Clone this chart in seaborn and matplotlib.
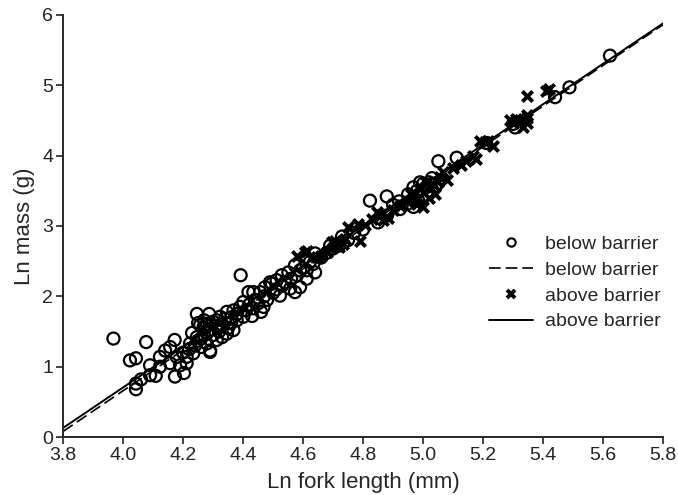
"""
Ln mass vs Ln fork length, fish below and above a barrier.
"""

import pandas as pd
import matplotlib.pyplot as plt
import seaborn as sns
from matplotlib.lines import Line2D

# --- Data ---
below_x = [
    3.968, 4.077, 4.023, 4.043, 4.090, 4.043, 4.043, 4.060, 4.090, 4.109,
    4.173, 4.203, 4.172, 4.157, 4.140, 4.123, 4.179, 4.123, 4.190, 4.157,
    4.212, 4.212, 4.234, 4.290, 4.223, 4.246, 4.268, 4.290, 4.279, 4.312,
    4.346, 4.368, 4.323, 4.246, 4.287, 4.290, 4.257, 4.273, 4.300, 4.220,
    4.240, 4.260, 4.270, 4.300, 4.320, 4.330, 4.350, 4.360, 4.340, 4.200,
    4.250, 4.280, 4.310, 4.260, 4.323, 4.346, 4.368, 4.401, 4.418, 4.434,
    4.457, 4.473, 4.496, 4.512, 4.529, 4.551, 4.573, 4.590, 4.612, 4.640,
    4.623, 4.523, 4.557, 4.573, 4.468, 4.434, 4.401, 4.379, 4.318, 4.279,
    4.312, 4.634, 4.640, 4.612, 4.590, 4.392, 4.380, 4.410, 4.420, 4.440,
    4.450, 4.470, 4.480, 4.500, 4.510, 4.530, 4.540, 4.560, 4.580, 4.600,
    4.390, 4.430, 4.460, 4.360, 4.350, 4.490, 4.660, 4.680, 4.700, 4.720,
    4.750, 4.770, 4.800, 4.823, 4.879, 4.850, 4.880, 4.923, 4.946, 4.968,
    4.984, 4.968, 4.980, 5.000, 5.010, 5.020, 4.990, 5.030, 5.051, 5.112,
    5.300, 5.307, 5.440, 5.488, 5.623, 4.950, 4.920, 4.900, 5.040, 4.730,
    4.690, 5.210, 4.230, 4.250, 4.330, 4.270,
]
below_y = [
    1.40, 1.35, 1.09, 1.12, 1.02, 0.76, 0.68, 0.82, 0.88, 0.87,
    0.86, 0.91, 1.38, 1.28, 1.23, 1.14, 1.14, 1.00, 1.02, 1.05,
    1.05, 1.14, 1.19, 1.21, 1.33, 1.42, 1.56, 1.52, 1.33, 1.38,
    1.47, 1.52, 1.56, 1.75, 1.75, 1.23, 1.59, 1.55, 1.64, 1.25,
    1.30, 1.40, 1.45, 1.45, 1.50, 1.60, 1.55, 1.62, 1.68, 1.20,
    1.37, 1.48, 1.58, 1.28, 1.71, 1.78, 1.80, 1.92, 2.06, 2.06,
    2.06, 2.13, 2.18, 2.23, 2.30, 2.34, 2.44, 2.37, 2.37, 2.61,
    2.49, 2.01, 2.11, 2.06, 1.85, 1.83, 1.71, 1.66, 1.56, 1.61,
    1.66, 2.46, 2.34, 2.25, 2.13, 2.30, 1.75, 1.80, 1.88, 1.95,
    1.90, 2.00, 1.95, 2.05, 2.10, 2.15, 2.20, 2.25, 2.30, 2.40,
    1.85, 1.72, 1.78, 1.70, 1.62, 2.20, 2.55, 2.62, 2.68, 2.72,
    2.80, 2.90, 2.95, 3.36, 3.42, 3.05, 3.15, 3.24, 3.31, 3.27,
    3.36, 3.55, 3.50, 3.60, 3.55, 3.62, 3.62, 3.68, 3.92, 3.97,
    4.45, 4.40, 4.83, 4.97, 5.42, 3.45, 3.35, 3.30, 3.55, 2.85,
    2.72, 4.18, 1.48, 1.62, 1.42, 1.66,
]

above_x = [
    4.579, 4.607, 4.612, 4.646, 4.679, 4.696, 4.707, 4.733, 4.751, 4.784,
    4.790, 4.807, 4.829, 4.846, 4.868, 4.884, 4.923, 4.946, 4.979, 5.000,
    5.023, 5.034, 5.040, 5.057, 5.068, 5.079, 5.128, 5.144, 5.167, 5.178,
    5.190, 5.218, 5.234, 5.207, 5.290, 5.323, 5.346, 5.334, 5.346, 5.346,
    5.346, 5.410, 5.420, 4.960, 4.990, 5.010, 4.930, 4.900, 4.860, 4.740,
    4.720, 4.660, 5.100, 5.050, 5.020, 4.980, 5.300, 5.310,
]
above_y = [
    2.58, 2.63, 2.65, 2.56, 2.63, 2.77, 2.79, 2.75, 2.98, 3.03,
    2.79, 3.01, 3.10, 3.20, 3.08, 3.12, 3.28, 3.36, 3.31, 3.27,
    3.55, 3.60, 3.46, 3.69, 3.76, 3.65, 3.86, 3.93, 4.00, 3.95,
    4.21, 4.21, 4.14, 4.19, 4.50, 4.50, 4.54, 4.40, 4.57, 4.47,
    4.85, 4.92, 4.95, 3.45, 3.52, 3.62, 3.30, 3.22, 3.15, 2.82,
    2.70, 2.58, 3.82, 3.62, 3.40, 3.38, 4.47, 4.52,
]

# regression fits (intercept, slope) for each group
below_fit = (-10.902, 2.89)
above_fit = (-10.795, 2.875)
fit_x = [3.8, 5.8]

below = pd.DataFrame({"length": below_x, "mass": below_y})
above = pd.DataFrame({"length": above_x, "mass": above_y})
below_line = pd.DataFrame({"length": fit_x,
                           "mass": [below_fit[0] + below_fit[1] * v for v in fit_x]})
above_line = pd.DataFrame({"length": fit_x,
                           "mass": [above_fit[0] + above_fit[1] * v for v in fit_x]})

# --- Style ---
sns.set_theme(style="ticks")
plt.rcParams["font.family"] = ["Liberation Sans", "DejaVu Sans"]
plt.rcParams["axes.linewidth"] = 1.4
plt.rcParams["xtick.major.width"] = 1.2
plt.rcParams["ytick.major.width"] = 1.2

fig = plt.figure(figsize=(6.78, 4.95), dpi=100)
ax = fig.add_axes([0.093, 0.117, 0.885, 0.853])

sns.lineplot(data=below_line, x="length", y="mass", ax=ax, color="black",
             lw=1.2, linestyle=(0, (7, 3)))
sns.lineplot(data=above_line, x="length", y="mass", ax=ax, color="black", lw=1.4)

sns.scatterplot(data=below, x="length", y="mass", ax=ax, marker="o", s=75,
                facecolor="none", edgecolor="black", linewidth=1.6, zorder=3)
sns.scatterplot(data=above, x="length", y="mass", ax=ax, marker="x", s=55,
                color="black", linewidth=2.8, zorder=4)

ax.set_xlim(3.8, 5.8)
ax.set_ylim(0, 6)
ax.set_xticks([3.8, 4.0, 4.2, 4.4, 4.6, 4.8, 5.0, 5.2, 5.4, 5.6, 5.8])
ax.set_xticklabels(["3.8", "4.0", "4.2", "4.4", "4.6", "4.8", "5.0",
                    "5.2", "5.4", "5.6", "5.8"])
ax.set_yticks([0, 1, 2, 3, 4, 5, 6])
ax.tick_params(direction="out", length=5, labelsize=14, colors="#222222",
               labelcolor="#222222", pad=2)
ax.set_xlabel("Ln fork length (mm)", fontsize=16, labelpad=6)
ax.set_ylabel("Ln mass (g)", fontsize=16, labelpad=5)
sns.despine(ax=ax)

handles = [
    Line2D([], [], marker="o", ls="none", mfc="none", mec="black", mew=1.5, ms=6),
    Line2D([], [], color="black", lw=1.2, ls=(0, (7, 3))),
    Line2D([], [], marker="x", ls="none", color="black", mew=2.8, ms=6),
    Line2D([], [], color="black", lw=1.4),
]
labels = ["below barrier", "below barrier", "above barrier", "above barrier"]
ax.legend(handles, labels, frameon=False, fontsize=14, loc="center left",
          bbox_to_anchor=(0.68, 0.365), handlelength=2.3, handletextpad=0.6,
          labelspacing=0.42)

fig.savefig("out.png", dpi=100)
plt.close(fig)
